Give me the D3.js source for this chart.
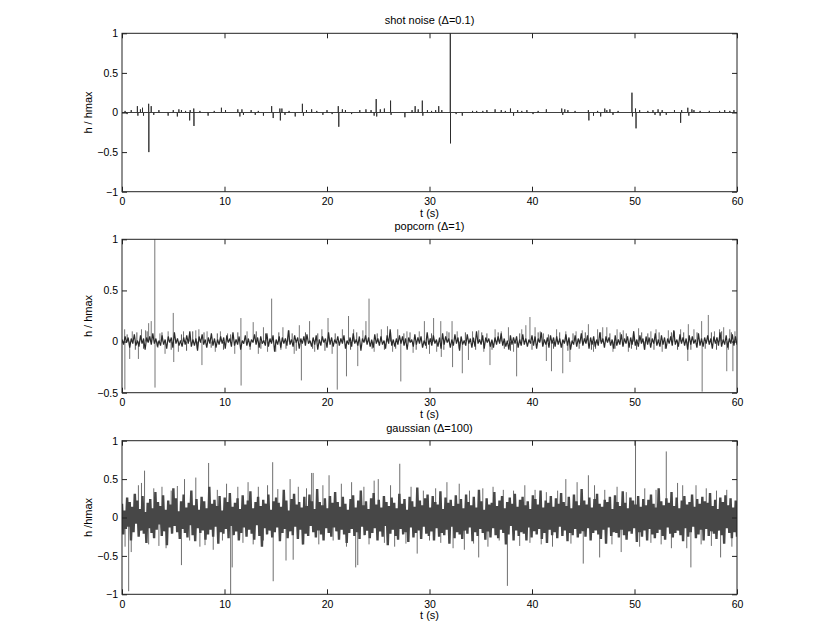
<!DOCTYPE html>
<html><head><meta charset="utf-8">
<script src="https://cdn.jsdelivr.net/npm/d3@7"></script>
<style>
html,body{margin:0;padding:0;background:#fff;}
text{font-family:"Liberation Sans",Arial,Helvetica,sans-serif;fill:#000;}
</style></head>
<body>
<svg id="chart" width="830" height="642"></svg>
<script>
// ---------- data ----------
const panelTitles = ["shot noise (\u0394=0.1)", "popcorn (\u0394=1)", "gaussian (\u0394=100)"];
const yLabels = ["h / hmax", "h / hmax", "h /hmax"];
const xLabel = "t (s)";
const xTicks = [0, 10, 20, 30, 40, 50, 60];
const yTicksShot = [-1, -0.5, 0, 0.5, 1];
const yTicksPop = [-0.5, 0, 0.5, 1];
const yTicksGauss = [-1, -0.5, 0, 0.5, 1];
const tMax = 60;

// shot noise: isolated events [t, h/hmax]
const shotEvents = [[0.3,0.02],[0.5,-0.02],[0.9,0.03],[1.5,0.08],[1.55,-0.04],[1.8,0.04],[2.0,0.06],[2.1,-0.04],[2.6,0.11],[2.62,-0.5],[2.85,0.08],[3.1,-0.03],[3.6,0.03],[4.5,-0.04],[5.0,0.03],[5.4,-0.05],[5.55,0.04],[5.8,0.03],[6.2,0.02],[6.6,-0.1],[6.65,0.03],[7.0,0.05],[7.02,-0.17],[7.6,0.02],[8.4,-0.04],[9.0,0.02],[9.7,0.06],[10.1,0.03],[11.3,0.04],[11.5,-0.05],[11.7,0.04],[11.85,-0.03],[12.6,0.03],[13.0,-0.03],[13.3,0.02],[13.8,-0.04],[14.6,0.08],[14.75,-0.07],[15.4,0.05],[15.45,-0.1],[15.6,0.05],[15.9,-0.03],[16.3,0.02],[16.9,-0.05],[17.6,0.11],[17.7,-0.04],[18.0,0.03],[18.5,0.04],[19.0,0.02],[19.6,-0.03],[20.0,0.03],[20.5,-0.02],[21.1,0.08],[21.15,-0.18],[21.5,0.04],[21.8,0.03],[22.4,-0.02],[23.2,0.03],[23.8,0.04],[24.3,0.03],[24.6,-0.04],[24.8,0.17],[24.85,-0.05],[25.2,0.04],[25.6,0.05],[26.2,0.15],[26.25,-0.03],[27.6,-0.06],[28.3,0.03],[28.6,0.08],[28.9,0.04],[29.3,0.15],[29.35,-0.04],[29.8,0.03],[30.2,0.02],[30.6,0.03],[30.9,0.08],[31.2,0.03],[32.03,1.0],[32.05,-0.39],[32.6,-0.02],[33.2,-0.04],[34.2,0.02],[34.6,0.02],[35.2,0.02],[35.6,0.03],[36.4,0.04],[37.0,0.03],[37.4,0.02],[37.9,0.05],[38.2,-0.04],[38.6,0.03],[39.0,0.02],[39.5,0.03],[40.1,-0.02],[40.6,0.02],[41.4,0.04],[42.9,0.05],[43.0,-0.03],[43.2,0.04],[43.5,0.03],[44.2,0.02],[45.5,0.03],[45.55,-0.1],[46.0,-0.04],[46.4,0.02],[46.7,-0.05],[47.1,0.05],[47.3,0.03],[47.6,0.04],[47.9,-0.03],[48.4,0.02],[49.75,0.25],[49.8,-0.05],[50.1,0.05],[50.15,-0.2],[50.5,0.03],[51.3,0.02],[51.8,0.03],[52.0,-0.03],[52.3,0.04],[52.5,-0.04],[52.7,0.03],[53.1,-0.03],[53.9,0.03],[54.5,-0.13],[54.6,0.03],[55.2,0.06],[55.3,-0.04],[55.6,0.04],[55.8,0.03],[56.4,0.02],[57.3,0.02],[58.3,0.02],[58.8,0.03],[59.3,0.02],[59.7,0.03]];

// popcorn: background samples (evenly spaced over 0..60 s)
const popcornBand = [
.02,-.03,.05,-.01,.04,-.06,.03,-.02,.07,-.04,.01,-.05,.06,-.02,.03,-.08,.04,-.01,.05,-.03,
.08,-.02,.03,-.05,.01,-.04,.06,-.03,.02,-.07,.05,-.01,.04,-.06,.09,-.02,.03,-.04,.01,-.05,
.04,-.03,.06,-.02,.1,-.05,.02,-.04,.03,-.09,.05,-.01,.07,-.03,.02,-.06,.04,-.02,.08,-.04,
.03,-.06,.02,-.03,.05,-.02,.04,-.07,.06,-.01,.03,-.05,.09,-.04,.02,-.03,.05,-.08,.01,-.02,
.06,-.04,.03,-.05,.02,-.01,.07,-.03,.04,-.06,.05,-.02,.01,-.04,.08,-.05,.03,-.02,.06,-.1,
.02,-.03,.05,-.06,.04,-.02,.03,-.04,.11,-.03,.02,-.05,.06,-.01,.04,-.07,.03,-.02,.05,-.04,
.07,-.02,.01,-.05,.04,-.03,.06,-.08,.02,-.04,.05,-.01,.03,-.06,.09,-.03,.04,-.05,.02,-.02,
.05,-.04,.03,-.02,.06,-.07,.01,-.03,.04,-.05,.08,-.02,.02,-.04,.05,-.09,.03,-.01,.06,-.03,
.04,-.05,.02,-.06,.07,-.02,.03,-.04,.05,-.03,.01,-.07,.06,-.02,.12,-.04,.02,-.05,.03,-.03,
.06,-.02,.05,-.04,.03,-.08,.04,-.01,.02,-.05,.07,-.03,.04,-.02,.05,-.06,.01,-.04,.09,-.03,
.03,-.04,.06,-.02,.02,-.05,.04,-.07,.08,-.03,.05,-.01,.03,-.06,.02,-.04,.07,-.02,.04,-.09,
.05,-.03,.01,-.04,.07,-.02,.03,-.06,.04,-.05,.1,-.02,.02,-.03,.06,-.07,.04,-.01,.03,-.05,
.02,-.06,.04,-.03,.05,-.02,.08,-.04,.03,-.05,.01,-.08,.06,-.03,.04,-.02,.05,-.06,.02,-.04,
.07,-.03,.03,-.05,.02,-.02,.06,-.04,.05,-.07,.03,-.01,.09,-.05,.02,-.03,.04,-.06,.06,-.02,
.04,-.05,.05,-.03,.03,-.06,.02,-.02,.07,-.04,.04,-.08,.01,-.03,.06,-.05,.03,-.02,.08,-.04,
.03,-.02,.06,-.07,.04,-.03,.05,-.05,.02,-.04,.09,-.02,.03,-.06,.05,-.01,.04,-.04,.02,-.07,
.06,-.04,.02,-.03,.07,-.05,.03,-.02,.05,-.06,.04,-.03,.1,-.04,.02,-.05,.06,-.02,.03,-.08,
.05,-.03,.04,-.06,.03,-.02,.08,-.04,.02,-.05,.06,-.03,.04,-.07,.03,-.02,.05,-.04,.11,-.03,
.02,-.05,.07,-.02,.04,-.04,.03,-.08,.06,-.03,.05,-.02,.02,-.06,.08,-.04,.03,-.05,.04,-.02,
.06,-.03,.03,-.07,.05,-.02,.04,-.04,.09,-.05,.02,-.03,.06,-.06,.03,-.02,.07,-.04,.05,-.03];
// popcorn: large pulses [t, h/hmax]
const popcornPulses = [[0.26,0.12],[0.28,-0.47],[0.75,-0.17],[1.0,0.1],[1.6,-0.17],[1.9,0.12],[2.3,0.11],[2.6,0.18],[2.85,0.2],[3.2,1.0],[3.22,-0.45],[3.7,0.08],[4.2,-0.12],[4.5,0.1],[5.0,0.28],[5.05,-0.2],[5.5,-0.1],[6.0,0.1],[6.6,0.09],[7.2,0.11],[7.5,0.12],[7.8,-0.23],[8.3,0.1],[9.1,-0.1],[9.6,0.1],[10.3,0.08],[11.0,-0.12],[11.6,0.23],[11.62,-0.43],[12.2,0.1],[12.8,0.19],[13.3,-0.12],[13.8,0.14],[14.2,-0.1],[14.6,0.42],[15.0,-0.1],[15.7,0.14],[16.3,0.11],[16.8,-0.12],[17.3,0.16],[17.5,-0.38],[18.3,0.2],[18.8,-0.1],[19.5,0.12],[20.1,0.23],[20.5,-0.12],[21.0,-0.47],[21.5,0.12],[21.9,-0.34],[22.1,0.25],[22.6,0.12],[23.0,-0.24],[23.5,0.11],[23.8,0.2],[24.1,0.42],[24.6,-0.1],[25.3,0.12],[25.9,0.15],[26.4,-0.1],[26.9,0.12],[27.2,-0.39],[27.8,0.1],[28.4,-0.11],[29.0,0.1],[29.5,0.2],[30.0,-0.12],[30.4,0.23],[30.7,-0.1],[31.1,0.2],[31.15,-0.15],[31.7,0.1],[32.2,0.2],[32.25,-0.25],[32.7,0.1],[33.2,-0.31],[33.8,-0.18],[34.2,0.1],[34.8,0.11],[35.3,-0.1],[35.9,-0.23],[36.4,0.12],[37.0,0.1],[37.7,0.14],[38.2,-0.1],[38.5,-0.34],[39.0,0.12],[39.4,0.16],[39.8,0.24],[40.3,0.14],[40.8,0.1],[41.4,-0.19],[41.9,-0.29],[42.4,0.12],[43.0,-0.31],[43.3,0.1],[43.7,-0.2],[44.3,0.1],[44.9,0.11],[45.5,0.17],[46.0,-0.1],[46.4,0.12],[46.9,0.14],[47.3,0.14],[47.9,-0.1],[48.3,0.12],[48.9,0.11],[49.4,-0.1],[49.9,0.1],[50.4,0.13],[51.0,-0.08],[51.6,0.1],[52.1,0.12],[52.7,-0.1],[53.3,0.11],[53.9,0.1],[54.5,0.12],[55.2,-0.19],[55.25,0.17],[55.8,0.12],[56.55,0.2],[56.6,-0.49],[57.2,0.26],[57.8,0.1],[58.3,0.12],[58.7,0.14],[59.0,-0.29],[59.3,0.12],[59.6,-0.29],[59.8,0.1]];
// popcorn: small pulses [t, h/hmax]
const popcornSmallPulses = [[0.5,0.07],[1.3,-0.08],[1.45,0.09],[2.1,-0.07],[2.45,0.1],[3.5,-0.06],[3.9,0.09],[4.8,-0.08],[5.8,0.07],[6.3,-0.09],[6.9,0.1],[7.35,-0.07],[8.0,0.09],[8.7,-0.06],[9.3,0.08],[9.9,-0.08],[10.6,0.07],[11.3,0.09],[12.5,-0.08],[13.1,0.1],[13.55,-0.07],[14.0,0.08],[15.3,0.09],[15.5,-0.08],[16.0,-0.07],[16.6,0.08],[17.0,-0.09],[17.9,0.09],[18.6,-0.07],[19.1,0.08],[19.8,-0.09],[20.8,0.08],[22.3,-0.08],[22.9,0.09],[24.4,-0.07],[24.9,0.08],[25.6,-0.08],[26.2,0.09],[26.7,-0.07],[27.5,0.08],[28.1,0.09],[28.7,-0.08],[29.7,-0.07],[30.2,0.08],[31.4,-0.08],[31.9,0.09],[32.9,-0.07],[33.5,0.09],[34.5,-0.08],[35.1,0.09],[35.6,0.08],[36.1,-0.08],[36.7,0.09],[37.3,-0.07],[37.9,-0.09],[38.8,0.08],[40.0,-0.08],[40.6,0.09],[41.1,0.08],[41.6,0.07],[42.1,-0.07],[42.7,0.09],[43.5,-0.09],[44.0,0.08],[44.6,-0.07],[45.2,0.09],[45.8,-0.08],[46.2,-0.07],[46.7,0.09],[47.6,0.08],[48.1,-0.07],[48.6,0.09],[49.2,0.08],[49.7,-0.07],[50.2,-0.08],[50.7,0.09],[51.3,0.08],[51.9,-0.08],[52.4,0.09],[53.0,-0.07],[53.6,0.09],[54.2,-0.08],[54.8,0.09],[55.5,-0.08],[56.1,0.09],[56.9,-0.07],[57.5,0.09],[58.0,-0.08],[58.5,0.1],[59.15,-0.08],[59.45,0.09]];

// gaussian: dense samples (evenly spaced over 0..60 s)
const gaussianBand = [
.18,-.22,.09,-.15,.26,-.12,.2,-.3,.14,-.19,.31,-.08,.22,-.25,.11,-.17,.28,-.21,.07,-.33,.19,-.14,.24,-.2,
.12,-.27,.33,-.16,.2,-.09,.15,-.24,.29,-.18,.1,-.36,.22,-.13,.17,-.21,.38,-.11,.25,-.19,.08,-.28,.21,-.15,
.3,-.2,.13,-.26,.19,-.1,.35,-.23,.16,-.31,.24,-.14,.1,-.2,.27,-.17,.21,-.29,.12,-.22,.4,-.16,.18,-.25,
.23,-.12,.15,-.34,.28,-.19,.09,-.21,.26,-.15,.2,-.27,.32,-.11,.14,-.23,.19,-.18,.25,-.3,.11,-.2,.29,-.13,
.17,-.25,.22,-.16,.34,-.21,.12,-.29,.2,-.1,.27,-.24,.15,-.38,.23,-.14,.18,-.22,.3,-.17,.1,-.26,.21,-.19,
.26,-.13,.19,-.31,.14,-.2,.36,-.15,.22,-.27,.09,-.18,.24,-.23,.31,-.12,.17,-.28,.2,-.16,.13,-.35,.27,-.21,
.15,-.24,.3,-.11,.21,-.19,.11,-.26,.37,-.17,.2,-.22,.16,-.3,.25,-.14,.12,-.2,.28,-.25,.19,-.13,.33,-.18,
.2,-.29,.14,-.16,.27,-.22,.18,-.33,.1,-.2,.24,-.15,.29,-.24,.13,-.19,.22,-.28,.35,-.12,.16,-.23,.21,-.17,
.11,-.27,.25,-.2,.32,-.14,.17,-.3,.23,-.18,.13,-.25,.28,-.11,.2,-.36,.15,-.21,.26,-.16,.19,-.24,.12,-.29,
.31,-.15,.18,-.22,.24,-.19,.1,-.32,.27,-.13,.21,-.26,.14,-.2,.39,-.17,.22,-.28,.16,-.12,.25,-.21,.3,-.24,
.13,-.18,.28,-.3,.2,-.14,.17,-.25,.34,-.2,.11,-.23,.26,-.16,.19,-.34,.23,-.12,.15,-.27,.29,-.19,.18,-.22,
.24,-.28,.12,-.17,.3,-.21,.2,-.13,.16,-.31,.27,-.19,.13,-.24,.36,-.15,.21,-.2,.1,-.29,.25,-.18,.17,-.26,
.19,-.14,.33,-.23,.15,-.27,.22,-.16,.28,-.2,.12,-.35,.2,-.22,.26,-.11,.18,-.3,.31,-.17,.14,-.24,.23,-.19,
.27,-.21,.16,-.3,.21,-.13,.11,-.26,.29,-.18,.24,-.22,.17,-.15,.35,-.28,.13,-.2,.22,-.33,.19,-.16,.28,-.23,
.14,-.19,.25,-.27,.18,-.12,.32,-.24,.2,-.17,.15,-.31,.27,-.2,.12,-.23,.3,-.15,.21,-.26,.16,-.21,.37,-.18,
.22,-.25,.17,-.14,.26,-.3,.13,-.2,.24,-.17,.31,-.22,.18,-.28,.14,-.16,.23,-.34,.2,-.13,.27,-.24,.11,-.19,
.29,-.2,.2,-.26,.15,-.16,.34,-.23,.19,-.29,.12,-.18,.26,-.21,.22,-.14,.17,-.32,.28,-.19,.14,-.25,.24,-.17,
.16,-.3,.23,-.15,.3,-.22,.18,-.27,.13,-.2,.38,-.16,.21,-.24,.16,-.29,.25,-.13,.19,-.21,.33,-.26,.15,-.2,
.26,-.17,.12,-.23,.22,-.31,.28,-.14,.17,-.25,.2,-.19,.3,-.12,.14,-.27,.24,-.22,.18,-.16,.27,-.3,.21,-.15,
.19,-.24,.32,-.18,.15,-.21,.23,-.28,.11,-.17,.26,-.23,.2,-.34,.29,-.14,.16,-.2,.25,-.27,.13,-.19,.22,-.25];
// gaussian: outlying excursions [t, h/hmax]
const gaussianPeaks = [[0.3,-0.38],[0.65,-0.96],[0.9,-0.45],[1.2,0.3],[1.6,0.42],[1.9,0.45],[2.2,0.61],[2.6,-0.35],[3.1,0.38],[3.6,-0.37],[3.9,0.4],[4.3,-0.4],[4.8,0.35],[5.4,0.41],[5.8,-0.62],[6.1,0.5],[6.6,-0.3],[7.2,0.52],[7.6,-0.38],[8.1,-0.36],[8.45,0.71],[8.9,-0.42],[9.3,0.36],[9.8,-0.3],[10.2,0.44],[10.6,-1.0],[10.75,-0.65],[11.3,0.4],[11.8,-0.33],[12.3,0.46],[12.8,-0.35],[13.3,0.4],[13.8,-0.3],[14.2,0.42],[14.7,0.72],[14.75,-0.83],[15.2,0.37],[16.0,-0.56],[16.4,0.5],[16.7,-0.55],[17.2,0.4],[17.6,-0.35],[18.0,0.38],[18.5,0.58],[18.65,0.58],[19.2,-0.35],[19.6,0.42],[20.2,0.55],[20.6,-0.3],[21.4,0.44],[21.9,-0.38],[22.4,0.46],[22.8,-0.65],[23.0,-0.62],[23.6,0.4],[24.1,-0.35],[24.6,0.48],[25.0,0.5],[25.6,-0.33],[26.2,0.42],[26.6,-0.38],[27.1,0.7],[27.7,-0.34],[28.2,0.4],[28.8,-0.47],[29.4,0.35],[30.0,-0.3],[30.6,0.38],[31.1,-0.33],[31.7,0.46],[32.3,-0.4],[32.9,0.44],[33.4,-0.42],[33.9,0.35],[34.3,-0.34],[34.8,-0.52],[35.2,0.38],[35.7,-0.38],[36.2,0.4],[36.8,-0.3],[37.2,0.36],[37.6,-0.89],[38.2,0.35],[38.8,-0.37],[39.3,0.42],[39.8,-0.33],[40.3,0.36],[40.9,-0.35],[41.4,0.33],[42.0,-0.38],[42.5,0.35],[43.3,0.5],[43.8,-0.34],[44.4,0.46],[45.0,-0.6],[45.5,0.55],[46.1,0.42],[46.6,-0.52],[47.1,0.36],[47.8,-0.35],[48.3,0.4],[48.7,-0.45],[49.2,0.33],[50.1,1.0],[50.5,-0.38],[51.0,0.38],[51.6,-0.33],[52.1,0.36],[52.6,-0.35],[53.1,0.86],[53.6,-0.4],[54.2,0.45],[54.7,0.42],[55.1,-0.4],[55.5,-0.65],[56.0,0.42],[56.5,-0.35],[57.0,0.38],[57.5,-0.37],[58.0,0.35],[58.4,-0.52],[59.0,0.36],[59.5,-0.38]];

// ---------- drawing ----------
const svg = d3.select("#chart");
const x = d3.scaleLinear().domain([0, tMax]).range([122, 737]);
const panels = [
  {top: 33.3, bottom: 191.7, domain: [-1, 1], yt: yTicksShot},
  {top: 239.3, bottom: 392.7, domain: [-0.5, 1], yt: yTicksPop},
  {top: 440.7, bottom: 594.3, domain: [-1, 1], yt: yTicksGauss}
];
const fmt = d3.format("~g");
const FS = 10.5;

panels.forEach((p, i) => {
  p.y = d3.scaleLinear().domain(p.domain).range([p.bottom, p.top]);
  const g = svg.append("g");
  const clipId = "clip" + i;
  svg.append("clipPath").attr("id", clipId).append("rect")
    .attr("x", x(0)).attr("y", p.top - 0.5).attr("width", x(tMax) - x(0)).attr("height", p.bottom - p.top + 1);
  p.plot = g.append("g").attr("clip-path", `url(#${clipId})`);
  p.g = g;
});

function spikes(p, data, color, width) {
  p.plot.append("g").selectAll("line").data(data).join("line")
    .attr("x1", d => x(d[0])).attr("x2", d => x(d[0]))
    .attr("y1", p.y(0)).attr("y2", d => p.y(d[1]))
    .attr("stroke", color).attr("stroke-width", width);
}
function band(p, data, color, width) {
  const n = data.length;
  const pts = data.map((v, k) => [k * tMax / (n - 1), v]);
  const line = d3.line().x(d => x(d[0])).y(d => p.y(d[1]));
  p.plot.append("path").attr("d", line(pts)).attr("fill", "none")
    .attr("stroke", color).attr("stroke-width", width).attr("stroke-linejoin", "bevel");
}

// shot noise
{
  const p = panels[0];
  const pts = [[0, 0]];
  shotEvents.forEach(d => { pts.push([d[0], 0], [d[0], d[1]], [d[0], 0]); });
  pts.push([tMax, 0]);
  const line = d3.line().x(d => x(d[0])).y(d => p.y(d[1]));
  p.plot.append("path").attr("d", line(pts)).attr("fill", "none")
    .attr("stroke", "#2a2a2a").attr("stroke-width", 0.9);
}
// popcorn
{
  const p = panels[1];
  spikes(p, popcornPulses, "#777", 1);
  spikes(p, popcornSmallPulses, "#555", 1);
  band(p, popcornBand, "#2a2a2a", 1.2);
}
// gaussian
{
  const p = panels[2];
  spikes(p, gaussianPeaks, "#6e6e6e", 1);
  band(p, gaussianBand, "#474747", 2.4);
}

// axes, frame, labels
panels.forEach((p, i) => {
  const g = p.g;
  const tick = 5;
  const ax = (sel) => { sel.select(".domain").remove(); sel.selectAll("line").attr("stroke", "#222"); sel.selectAll("text").attr("font-size", FS).attr("font-family", "Liberation Sans, Arial, sans-serif").attr("fill", "#000"); };
  g.append("g").attr("transform", `translate(0,${p.bottom})`)
    .call(d3.axisBottom(x).tickValues(xTicks).tickFormat(fmt).tickSizeInner(-tick).tickSizeOuter(0).tickPadding(6)).call(ax);
  g.append("g").attr("transform", `translate(0,${p.top})`)
    .call(d3.axisTop(x).tickValues(xTicks).tickFormat("").tickSizeInner(-tick).tickSizeOuter(0)).call(ax);
  g.append("g").attr("transform", `translate(${x(0)},0)`)
    .call(d3.axisLeft(p.y).tickValues(p.yt).tickFormat(fmt).tickSizeInner(-tick).tickSizeOuter(0).tickPadding(4)).call(ax);
  g.append("g").attr("transform", `translate(${x(tMax)},0)`)
    .call(d3.axisRight(p.y).tickValues(p.yt).tickFormat("").tickSizeInner(-tick).tickSizeOuter(0)).call(ax);
  g.append("rect").attr("x", x(0)).attr("y", p.top).attr("width", x(tMax) - x(0)).attr("height", p.bottom - p.top)
    .attr("fill", "none").attr("stroke", "#222").attr("stroke-width", 1);

  const cx = (x(0) + x(tMax)) / 2;
  g.append("text").attr("x", cx).attr("y", p.top - 9).attr("text-anchor", "middle").attr("font-size", 11).text(panelTitles[i]);
  g.append("text").attr("x", cx).attr("y", p.bottom + 25).attr("text-anchor", "middle").attr("font-size", 11).text(xLabel);
  const cy = (p.top + p.bottom) / 2;
  g.append("text").attr("transform", `translate(92,${cy}) rotate(-90)`).attr("text-anchor", "middle").attr("font-size", 11).text(yLabels[i]);
});
</script>
</body></html>
